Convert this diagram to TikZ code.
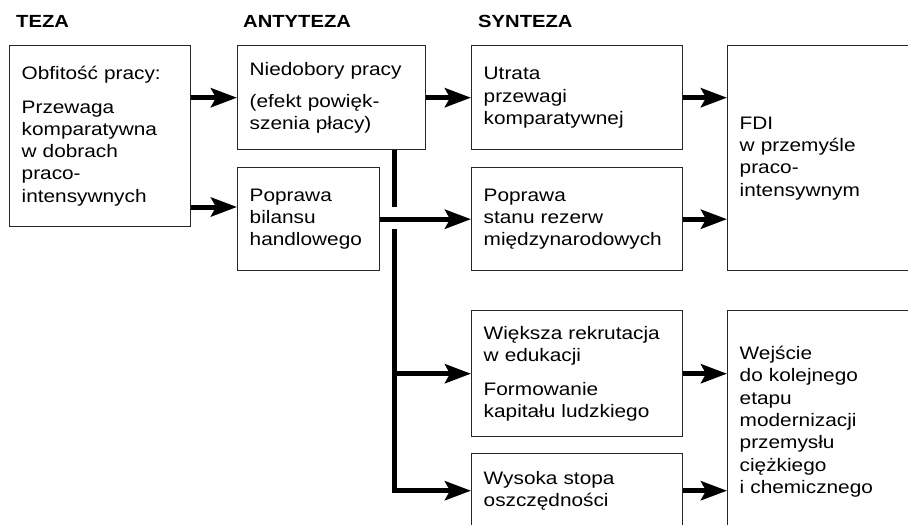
\documentclass[tikz,border=0pt]{standalone}
\usepackage{fontspec}
\setmainfont{Liberation Sans}[FakeStretch=1.15]
\usepackage{tikz}
\usetikzlibrary{arrows.meta, positioning, calc}
\tikzset{
  box/.style 2 args={rectangle, draw=black!85, line width=0.8pt, anchor=north west, align=left, inner xsep=0.24cm, inner ysep=0.05cm, text width=#1, minimum height=#2},
  head/.style={anchor=base west, font=\bfseries},
  arrow/.style={-{Stealth[length=0.52cm, width=0.38cm, inset=0.1cm]}, line width=0.1cm, line join=miter},
  trunk/.style={line width=0.1cm},
}
\begin{document}
\begin{tikzpicture}[x=0.02cm, y=-0.02cm, font=\fontsize{10.3pt}{12.7pt}\selectfont]
  \useasboundingbox (0,0) rectangle (908,524);
  \clip (0,0) rectangle (908,524);

  % Headings
  \node[head] (hTeza) at (10,28) {TEZA};
  \node[head] (hAnty) at (237,28) {ANTYTEZA};
  \node[head] (hSynt) at (472,28) {SYNTEZA};

  % Teza
  \node[box={3.14cm}{3.62cm}] (teza) at (9,45) {Obfitość pracy:\\[0.22cm] Przewaga\\ komparatywna\\ w dobrach\\ praco-\\ intensywnych};

  % Antyteza
  \node[box={3.28cm}{2.08cm}] (niedo) at (237,45) {Niedobory pracy\\[0.2cm] (efekt powięk-\\ szenia płacy)};
  \node[box={2.36cm}{2.06cm}] (bilans) at (237,167) {Poprawa\\ bilansu\\ handlowego};

  % Synteza
  \node[box={3.74cm}{2.08cm}] (utrata) at (471,45) {Utrata\\ przewagi\\ komparatywnej};
  \node[box={3.74cm}{2.06cm}] (rezerwy) at (471,167) {Poprawa\\ stanu rezerw\\ międzynarodowych};
  \node[box={3.74cm}{2.52cm}] (edu) at (471,310) {Większa rekrutacja\\ w edukacji\\[0.22cm] Formowanie\\ kapitału ludzkiego};
  \node[box={3.74cm}{1.48cm}] (oszcz) at (471,453) {Wysoka stopa\\ oszczędności};

  % Results
  \node[box={3.58cm}{4.5cm}] (fdi) at (727,45) {FDI\\ w przemyśle\\ praco-\\ intensywnym};
  \node[box={3.58cm}{4.44cm}] (wejscie) at (727,310) {Wejście\\ do kolejnego\\ etapu\\ modernizacji\\ przemysłu\\ ciężkiego\\ i chemicznego};

  % Trunk with gap
  \coordinate (gapA) at (394,207);
  \coordinate (gapB) at (394,229);

  % Arrows
  \draw[arrow] (teza.east |- niedo.west) -- (niedo.west);
  \draw[arrow] (teza.east |- gapA) -- (bilans.west |- gapA);
  \draw[arrow] (niedo.east) -- (utrata.west);
  \draw[arrow] (bilans.east) -- (rezerwy.west);
  \draw[arrow] (utrata.east) -- (utrata.east -| fdi.west);
  \draw[arrow] (rezerwy.east) -- (rezerwy.east -| fdi.west);
  \draw[trunk] (gapA |- niedo.south) -- (gapA);
  \draw[arrow] (gapB) -- (gapB |- oszcz.west) -- (oszcz.west);
  \draw[arrow] (gapB |- edu.west) -- (edu.west);
  \draw[arrow] (edu.east) -- (edu.east -| wejscie.west);
  \draw[arrow] (oszcz.east) -- (oszcz.east -| wejscie.west);
\end{tikzpicture}
\end{document}
